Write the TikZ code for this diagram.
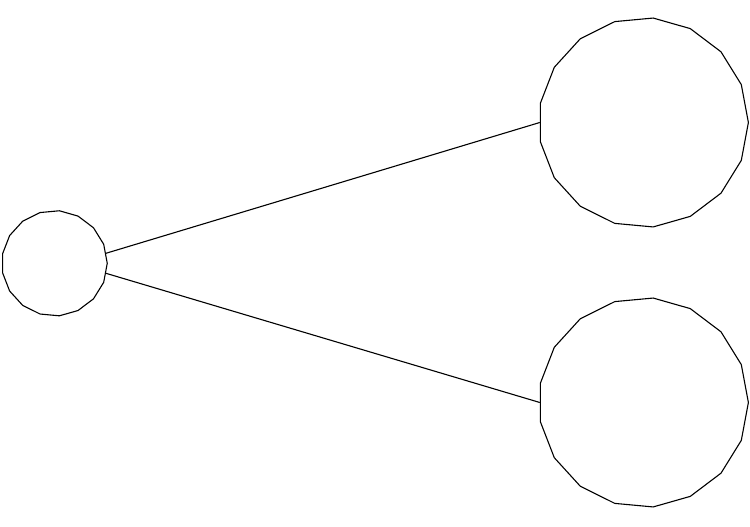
\documentclass[tikz,border=0pt]{standalone}
\usetikzlibrary{positioning}
\usetikzlibrary{shapes.geometric}

\tikzset{
  blob/.style={draw, regular polygon, regular polygon sides=17,
    shape border rotate=270, inner sep=0pt},
}

\begin{document}
\begin{tikzpicture}[x=1pt, y=1pt, line width=1.1pt]
  \useasboundingbox (0,0) rectangle (750,527);

  \node [blob, minimum size=105.5pt] (root) at (54.5,263.7) {};
  \node [blob, minimum size=209.8pt, right=432pt of root, yshift=140.8pt] (upper) {};
  \node [blob, minimum size=209.8pt, right=432pt of root, yshift=-139.2pt] (lower) {};

  \draw (root.11) -- (upper.west);
  \draw (root.-11) -- (lower.west);

\end{tikzpicture}
\end{document}
